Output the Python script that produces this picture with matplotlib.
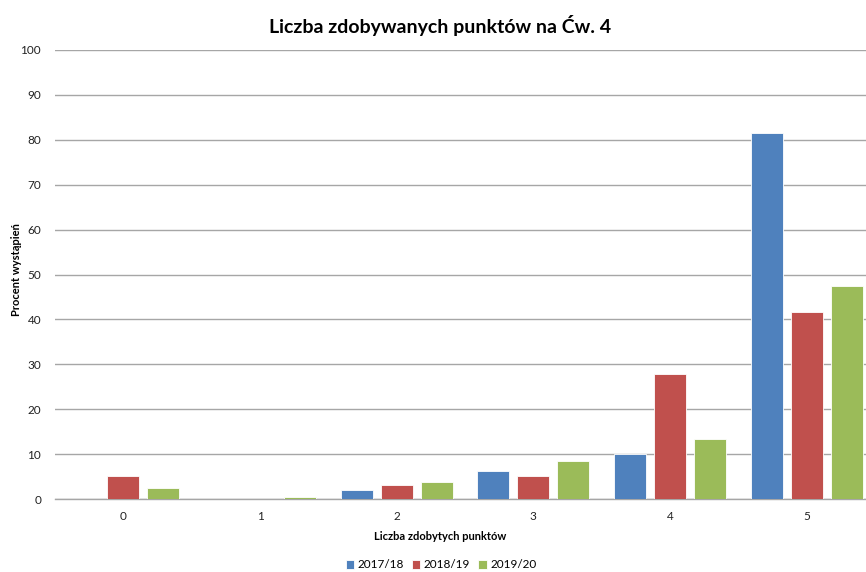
import numpy as np
import matplotlib
matplotlib.use('Agg')
import matplotlib.pyplot as plt

# --------------------------------------------------------------------
# -- DONNEES
# --------------------------------------------------------------------
categories = ['0', '1', '2', '3', '4', '5']
seasons = ['2017/18', '2018/19', '2019/20']
v_2017 = [0.0, 0.0, 2.0, 6.2, 10.0, 81.6]
v_2018 = [5.1, 0.0, 3.1, 5.1, 27.9, 41.6]
v_2019 = [2.5, 0.5, 3.7, 8.4, 13.4, 47.4]
colors = ['#4F81BD', '#C0504D', '#9BBB59']

plt.rcParams['font.family'] = ['Lato', 'DejaVu Sans']

fig = plt.figure(figsize=(8.66, 5.72), dpi=100)
ax = fig.add_axes([55 / 866, 73 / 572, 811 / 866, 449 / 572])

x = np.arange(len(categories))
width = 0.234
step = 0.293
for i, (vals, lab) in enumerate(zip([v_2017, v_2018, v_2019], seasons)):
    ax.bar(x + (i - 1) * step, vals, width, color=colors[i], label=lab,
           edgecolor='white', linewidth=0.6, zorder=3)

# grille et axes
ax.set_ylim(0, 100)
ax.set_xlim(-0.5, 5.434)
ax.set_yticks(np.arange(0, 101, 10))
ax.grid(axis='y', color='#A6A6A6', linewidth=1, zorder=0)
for s in ['top', 'right', 'left']:
    ax.spines[s].set_visible(False)
ax.spines['bottom'].set_color('#A6A6A6')
ax.spines['bottom'].set_linewidth(1)
ax.set_xticks(x)
ax.set_xticklabels(categories)
ax.tick_params(axis='both', length=0, labelsize=8.5, colors='#222222')
ax.tick_params(axis='y', pad=10)
ax.tick_params(axis='x', pad=9)

ax.set_xlabel('Liczba zdobytych punktów', fontsize=8, fontweight='bold',
              labelpad=8)
ax.xaxis.set_label_coords((440 - 55) / 811, -0.072)
ax.set_ylabel('Procent wystąpień', fontsize=8, fontweight='bold')
ax.yaxis.set_label_coords(-33 / 811, 0.51)

fig.text(440 / 866, 1 - 25 / 572, 'Liczba zdobywanych punktów na Ćw. 4',
         ha='center', va='center', fontsize=14, fontweight='bold')

fig.legend(loc='center', bbox_to_anchor=(441 / 866, 1 - 565 / 572), ncol=3,
           frameon=False, fontsize=8.5, handlelength=0.7, handleheight=0.7,
           columnspacing=0.7, handletextpad=0.3)

fig.savefig('out.png', dpi=100)
